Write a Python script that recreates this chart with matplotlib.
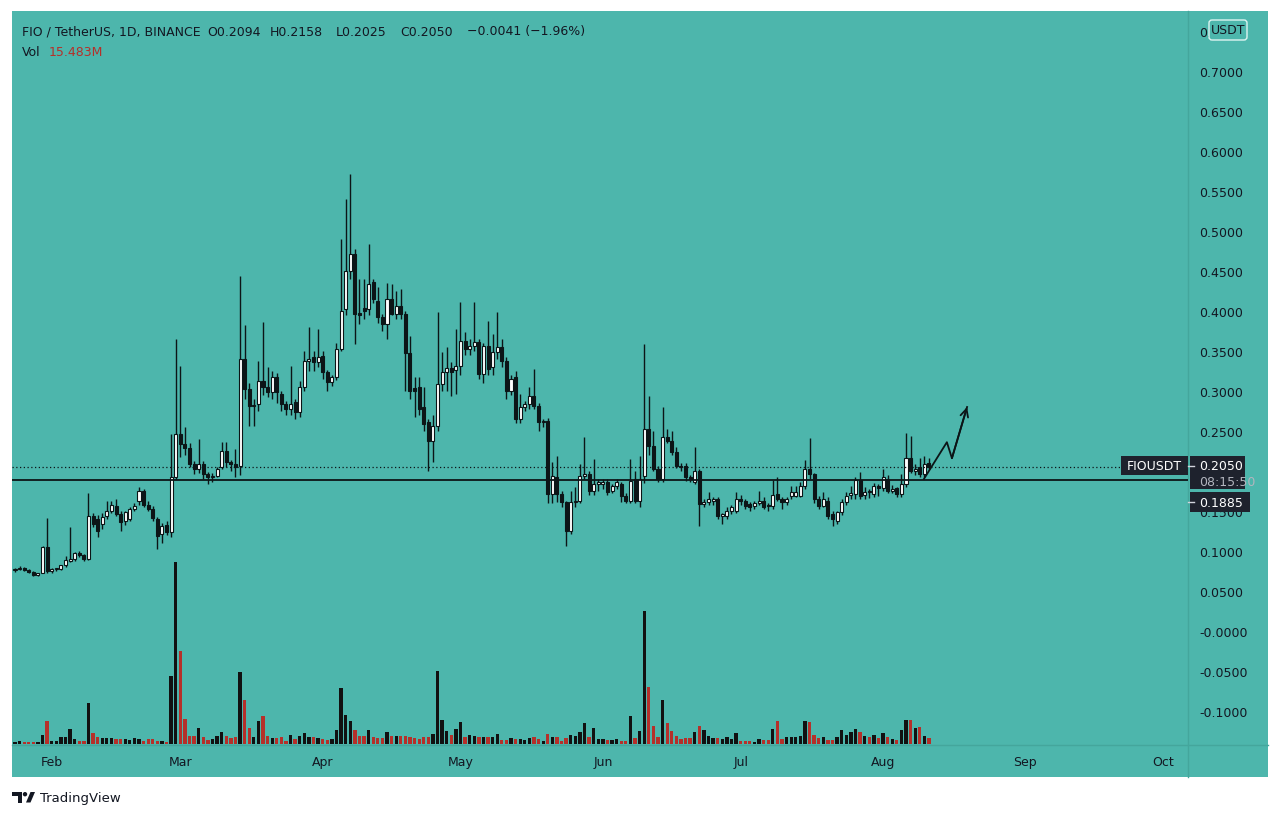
import numpy as np
import pandas as pd
import matplotlib
matplotlib.use("Agg")
import matplotlib.pyplot as plt
from matplotlib.patches import Rectangle, FancyBboxPatch, Polygon, Circle

# ========================================
# data  (FIO / USDT daily)
# ========================================
start_day = "2021-01-24"

open_ = [
    .076, .077, .079, .076, .074, .0705, .073, .105, .075, .077,
    .077, .082, .0875, .090, .0975, .095, .090, .144, .140, .134,
    .1442, .150, .156, .146, .1375, .140, .1525, .162, .1754, .158,
    .153, .140, .1215, .133, .124, .1925, .246, .234, .229, .209,
    .2025, .209, .196, .192, .194, .205, .225, .211, .209, .206,
    .340, .3025, .281, .2838, .3129, .3046, .2988, .3171, .296, .2838,
    .2775, .286, .2733, .3046, .338, .342, .336, .344, .3233, .3108,
    .3171, .3525, .4025, .4504, .4713, .3975, .4038, .4025, .436, .4129,
    .3921, .3838, .415, .3963, .4067, .3963, .3475, .3035, .305, .280,
    .2608, .2379, .2567, .3088, .3233, .3288, .3258, .3316, .3629, .3525,
    .356, .3608, .3213, .3563, .3296, .3483, .3546, .3379, .3004, .3171,
    .265, .280, .2838, .2942, .2817, .2608, .2629, .1713, .1921, .1713,
    .1608, .1254, .1608, .1629, .1942, .1963, .1754, .1838, .1838, .1858,
    .1754, .1817, .1838, .1692, .1629, .190, .1629, .1942, .2525, .2317,
    .2025, .190, .2421, .2379, .2233, .2067, .2067, .1921, .1858, .2004,
    .1588, .1608, .1629, .165, .1442, .1442, .150, .1504, .165, .162,
    .1588, .1558, .160, .1629, .1567, .1558, .1712, .165, .1608, .1692,
    .1692, .1692, .1817, .2025, .1962, .165, .1567, .1629, .1463, .1379,
    .1483, .1617, .170, .1712, .1892, .170, .1742, .1712, .1817, .1783,
    .190, .1754, .1783, .1712, .1837, .2158, .2004, .2046, .1962, .2094,
]
high = [
    .079, .081, .080, .077, .075, .073, .106, .141, .079, .079,
    .083, .0935, .130, .099, .100, .096, .1725, .148, .145, .147,
    .162, .163, .165, .150, .150, .155, .160, .180, .178, .162,
    .156, .143, .135, .137, .246, .365, .331, .255, .235, .212,
    .2396, .212, .199, .198, .205, .236, .236, .214, .227, .444,
    .382, .310, .290, .3379, .386, .330, .325, .322, .300, .288,
    .3317, .290, .312, .350, .380, .350, .377, .350, .326, .320,
    .360, .490, .540, .571, .478, .440, .440, .484, .440, .430,
    .396, .435, .434, .425, .427, .400, .369, .3171, .3171, .3046,
    .265, .270, .3988, .3484, .3546, .3358, .3775, .4108, .3733, .365,
    .4108, .365, .360, .3879, .3713, .3988, .365, .342, .320, .325,
    .2963, .2879, .3046, .3275, .285, .265, .266, .2108, .2192, .175,
    .163, .175, .1796, .2088, .2421, .200, .215, .190, .190, .190,
    .1838, .190, .186, .172, .215, .200, .2192, .3588, .2942, .250,
    .206, .2796, .2525, .250, .230, .210, .210, .195, .2296, .2025,
    .165, .1733, .168, .167, .148, .155, .158, .1733, .170, .165,
    .161, .162, .1754, .168, .160, .1892, .1921, .168, .168, .1808,
    .1817, .1858, .2142, .2408, .198, .1692, .1733, .168, .150, .150,
    .165, .1733, .1808, .192, .1983, .1796, .178, .185, .184, .2025,
    .195, .182, .180, .1958, .2475, .2442, .2088, .2167, .2192, .2158,
]
low = [
    .074, .076, .075, .073, .069, .069, .072, .072, .073, .075,
    .076, .080, .086, .088, .093, .088, .089, .130, .118, .128,
    .140, .148, .144, .1254, .132, .138, .150, .158, .155, .150,
    .138, .1025, .110, .120, .118, .190, .2175, .220, .205, .196,
    .198, .190, .184, .186, .192, .203, .205, .200, .192, .195,
    .290, .2567, .2567, .275, .295, .293, .290, .285, .275, .270,
    .270, .265, .268, .300, .325, .325, .330, .315, .300, .306,
    .314, .350, .395, .440, .3588, .3838, .390, .395, .410, .385,
    .3754, .365, .395, .390, .390, .300, .290, .2675, .270, .2504,
    .2004, .2108, .250, .300, .2996, .2938, .2963, .320, .345, .345,
    .350, .315, .310, .320, .320, .340, .330, .290, .295, .260,
    .260, .275, .278, .278, .2504, .255, .160, .160, .1608, .155,
    .1067, .1213, .155, .160, .190, .170, .170, .175, .178, .170,
    .172, .178, .1617, .160, .160, .160, .155, .185, .220, .200,
    .1858, .1858, .235, .220, .204, .200, .1879, .1858, .1838, .1317,
    .155, .158, .158, .140, .1338, .140, .146, .148, .158, .152,
    .150, .152, .158, .153, .150, .152, .163, .1525, .158, .165,
    .167, .167, .178, .190, .160, .152, .155, .140, .1317, .1338,
    .145, .158, .165, .165, .165, .165, .166, .168, .1692, .175,
    .172, .172, .168, .168, .180, .197, .195, .193, .193, .2025,
]
close_ = [
    .077, .079, .076, .074, .0705, .072, .105, .075, .077, .078,
    .082, .089, .090, .0975, .095, .0905, .144, .134, .125, .142,
    .150, .157, .146, .1358, .1483, .1525, .1567, .1754, .158, .153,
    .141, .119, .131, .124, .1925, .246, .234, .229, .209, .2025,
    .209, .196, .192, .194, .2025, .225, .211, .209, .205, .340,
    .3025, .2817, .283, .3129, .3046, .2988, .3171, .2988, .2838, .2775,
    .2838, .2733, .3046, .3379, .340, .336, .342, .3233, .3108, .3171,
    .3525, .4004, .4504, .4713, .396, .395, .400, .4338, .415, .3921,
    .3838, .415, .3963, .4067, .3963, .3475, .300, .300, .2775, .2588,
    .2379, .2567, .3088, .3233, .3288, .3233, .3316, .3629, .3525, .356,
    .3608, .3213, .3563, .3275, .3483, .3546, .3379, .3004, .3154, .265,
    .280, .2838, .2942, .2817, .2608, .2629, .1713, .1942, .1713, .1608,
    .1254, .1608, .1629, .1942, .1963, .1754, .1838, .1858, .1867, .1733,
    .1817, .1858, .1692, .1629, .1879, .1629, .190, .2525, .2317, .2025,
    .190, .2421, .2379, .2233, .2067, .205, .1921, .190, .2004, .1588,
    .1608, .165, .165, .1442, .145, .1504, .155, .165, .162, .1567,
    .1546, .160, .1629, .1546, .1558, .1704, .165, .1608, .165, .1733,
    .1733, .1817, .2025, .1962, .165, .1567, .165, .1442, .140, .1483,
    .1617, .1692, .1725, .1892, .1692, .1742, .1733, .1817, .1783, .1921,
    .1754, .1775, .1712, .1837, .2158, .2004, .2025, .1962, .2091, .2050,
]
# volume, millions of FIO
volume = [
    6.3, 7.3, 4.6, 4.6, 4.6, 4.6, 25.3, 62.6, 9.0, 7.3,
    18.2, 18.2, 40.8, 13.6, 9.0, 9.0, 111.5, 29.1, 18.2, 15.5,
    15.5, 15.5, 13.6, 13.6, 13.6, 10.9, 16.3, 13.6, 9.0, 13.6,
    13.6, 9.0, 9.0, 6.3, 185, 495, 253, 68, 22.6, 22.6,
    42.7, 19.9, 11.7, 13.6, 20.9, 33.5, 22.6, 16.3, 18.2, 196,
    120, 42.7, 18.2, 61.7, 75.3, 22.6, 15.5, 15.5, 18.2, 9.0,
    25.3, 13.6, 22.6, 29.9, 18.2, 19.9, 16.3, 13.6, 10.9, 13.6,
    38.9, 152, 79.7, 63.4, 38.9, 20.9, 20.9, 38.1, 18.2, 16.3,
    15.5, 33.5, 22.6, 22.6, 22.6, 20.9, 18.2, 16.3, 13.6, 18.2,
    18.2, 27.2, 199, 65.3, 36.2, 25.3, 40.8, 59, 18.2, 24.5,
    20.9, 18.2, 18.2, 18.2, 19.9, 27.2, 11.7, 11.7, 15.5, 13.6,
    13.6, 11.7, 15.5, 18.2, 13.6, 9.0, 27.2, 18.2, 18.2, 9.0,
    15.5, 25.3, 22.6, 33.5, 57.1, 18.2, 43.5, 13.6, 13.6, 11.7,
    11.7, 13.6, 9.0, 9.0, 75.3, 15.5, 36.2, 362, 155, 49.8,
    18.2, 120, 57.1, 36.2, 20.9, 13.6, 16.3, 16.3, 31.8, 49.8,
    38.9, 22.6, 15.5, 15.5, 13.6, 19.9, 13.6, 29.9, 9.0, 7.3,
    7.3, 6.3, 13.6, 11.7, 11.7, 40.8, 61.7, 13.6, 19.9, 19.9,
    18.2, 22.6, 63.4, 59, 24.5, 16.3, 18.2, 11.7, 11.7, 18.2,
    38.9, 25.3, 33.5, 40.8, 33.5, 20.9, 18.2, 24.5, 15.5, 29.9,
    18.2, 13.6, 11.7, 38.9, 66.1, 65.3, 42.7, 47.1, 22.6, 15.483,
]

# 0.2000 sits under the last-price tag, so it is left blank
price_ticks = [0.75, 0.70, 0.65, 0.60, 0.55, 0.50, 0.45, 0.40, 0.35, 0.30,
               0.25, 0.20, 0.15, 0.10, 0.05, 0.0, -0.05, -0.10]
price_labels = ["0.7500", "0.7000", "0.6500", "0.6000", "0.5500", "0.5000",
                "0.4500", "0.4000", "0.3500", "0.3000", "0.2500", "",
                "0.1500", "0.1000", "0.0500", "-0.0000", "-0.0500", "-0.1000"]

level_line = 0.1885          # drawn horizontal support
# hand drawn projection arrow: (day index, price)
arrow_x = [197.9, 202.9, 204.0, 207.3]
arrow_y = [0.190, 0.236, 0.216, 0.280]

# ========================================
# style
# ========================================
TEAL = "#4db6ac"
SEP = "#44a69c"
TXT = "#131722"
DARK = "#0c1517"
RED = "#b5302a"
TAG = "#1e222d"
plt.rcParams["font.family"] = ["DejaVu Sans"]

n = len(close_)
idx = np.arange(n)
o = np.array(open_)
h = np.array(high)
lo = np.array(low)
c = np.array(close_)
up = c >= o

all_days = pd.date_range(start_day, periods=260, freq="D")
month_pos = [i for i, d in enumerate(all_days) if d.day == 1][:9]
month_lab = [all_days[i].strftime("%b") for i in month_pos]

fig = plt.figure(figsize=(12.8, 8.2), dpi=100)
fig.patch.set_facecolor("white")

# background layer in pixel coordinates
bg = fig.add_axes([0, 0, 1, 1], zorder=0)
bg.set_xlim(0, 1280)
bg.set_ylim(820, 0)
bg.axis("off")
bg.add_patch(Rectangle((12, 12), 1256, 766, color=TEAL, lw=0))
bg.plot([1188, 1188], [12, 778], color=SEP, lw=1)
bg.plot([12, 1268], [746, 746], color=SEP, lw=1)

# header
fs = 9
bg.text(22, 32, "FIO / TetherUS, 1D, BINANCE", fontsize=fs, color=TXT, va="center")
bg.text(207, 32, f"O{o[-1]:.4f}", fontsize=fs, color=TXT, va="center")
bg.text(270, 32, f"H{h[-1]:.4f}", fontsize=fs, color=TXT, va="center")
bg.text(336, 32, f"L{lo[-1]:.4f}", fontsize=fs, color=TXT, va="center")
bg.text(400, 32, f"C{c[-1]:.4f}", fontsize=fs, color=TXT, va="center")
chg = c[-1] - c[-2]
bg.text(467, 32, f"\u2212{abs(chg):.4f} (\u2212{abs(chg) / c[-2] * 100:.2f}%)",
        fontsize=fs, color=TXT, va="center")
bg.text(22, 52, "Vol", fontsize=fs, color=TXT, va="center")
bg.text(49, 52, f"{volume[-1]:.3f}M", fontsize=fs, color=RED, va="center")

# TradingView logo + name
bg.add_patch(Polygon([(12, 793), (22, 793), (22, 803.5), (17.5, 803.5), (17.5, 797), (12, 797)],
                     color=TXT, lw=0))
bg.add_patch(Circle((25, 795.2), 2.2, color=TXT, lw=0))
bg.add_patch(Polygon([(26, 803.5), (30.5, 803.5), (35, 793), (30.5, 793)], color=TXT, lw=0))
bg.text(40, 799, "TradingView", fontsize=9.5, color=TXT, va="center")

# ========================================
# price pane
# ========================================
ax = fig.add_axes([12 / 1280, 74 / 820, 1176 / 1280, 734 / 820])
axv = ax.twinx()
ax.set_zorder(axv.get_zorder() + 1)
ax.patch.set_visible(False)
axv.patch.set_visible(False)

# volume overlay
vol_col = np.where(up, "#111111", RED)
axv.bar(idx, volume, width=0.72, color=vol_col, lw=0)
axv.set_ylim(-2.72, 1994)
axv.set_axis_off()

# candles
ax.vlines(idx, lo, h, color=DARK, lw=1.0, zorder=3)
body_lo = np.minimum(o, c)
body_h = np.maximum(np.abs(c - o), 0.0018)
ax.bar(idx[up], body_h[up], bottom=body_lo[up], width=0.66, facecolor="white",
       edgecolor=DARK, lw=0.8, zorder=4)
ax.bar(idx[~up], body_h[~up], bottom=body_lo[~up], width=0.66, facecolor=DARK,
       edgecolor=DARK, lw=0.8, zorder=4)

ax.axhline(level_line, color=DARK, lw=1.3, zorder=5)
ax.axhline(c[-1], color=DARK, lw=0.9, ls=(0, (1, 2)), zorder=5)

ax.plot(arrow_x, arrow_y, color=DARK, lw=1.3, zorder=6)
ax.annotate("", xy=(arrow_x[-1], arrow_y[-1]), xytext=(arrow_x[-2], arrow_y[-2]),
            arrowprops=dict(arrowstyle="->", color=DARK, lw=1.3, mutation_scale=14,
                            shrinkA=0, shrinkB=0), zorder=6)

ax.set_xlim(-0.65, 255.4)
ax.set_ylim(-0.1425, 0.775)
for s in ax.spines.values():
    s.set_visible(False)
ax.yaxis.tick_right()
ax.set_yticks(price_ticks)
ax.set_yticklabels(price_labels)
ax.tick_params(axis="y", length=0, pad=8, labelsize=9, labelcolor=TXT)
ax.set_xticks(month_pos)
ax.set_xticklabels(month_lab)
ax.tick_params(axis="x", length=0, pad=7, labelsize=9, labelcolor=TXT)

# ========================================
# tags on the price scale (overlay, pixel coords)
# ========================================
ov = fig.add_axes([0, 0, 1, 1], zorder=10)
ov.set_xlim(0, 1280)
ov.set_ylim(820, 0)
ov.axis("off")
ov.patch.set_visible(False)


def py(p):
    return 820 - ax.transData.transform((0, p))[1]


yc = py(c[-1])
ov.add_patch(Rectangle((1121, yc - 11), 67, 19, color=TAG, lw=0))
ov.text(1154.5, yc - 1.5, "FIOUSDT", fontsize=9, color="white", ha="center", va="center")
ov.add_patch(Rectangle((1190, yc - 11), 55, 33, color=TAG, lw=0))
ov.plot([1188, 1194], [yc - 1.5, yc - 1.5], color="#d1d4dc", lw=1)
ov.text(1199, yc - 1.5, f"{c[-1]:.4f}", fontsize=9, color="white", va="center")
ov.text(1199, yc + 14, "08:15:50", fontsize=9, color="#b2b5be", va="center")

yl = py(level_line) + 22
ov.add_patch(Rectangle((1190, yl - 10), 60, 20, color=TAG, lw=0))
ov.plot([1188, 1194], [yl, yl], color="#d1d4dc", lw=1)
ov.text(1199, yl, f"{level_line:.4f}", fontsize=9, color="white", va="center")

ov.add_patch(FancyBboxPatch((1209, 21), 38, 20, boxstyle="round,pad=0,rounding_size=3",
                            facecolor=TEAL, edgecolor="#dff4f1", lw=1))
ov.text(1228, 31, "USDT", fontsize=9, color=TXT, ha="center", va="center")

fig.savefig("out.png", dpi=100, facecolor="white")
